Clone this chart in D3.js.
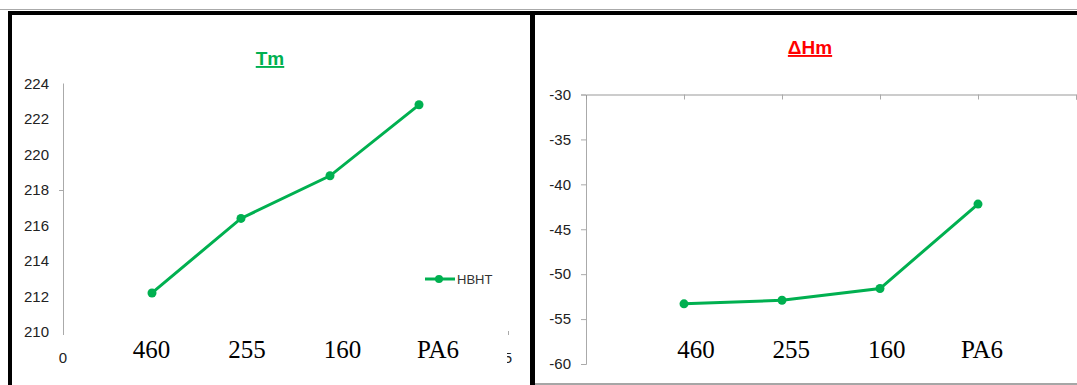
<!DOCTYPE html>
<html><head><meta charset="utf-8">
<script src="https://cdn.jsdelivr.net/npm/d3@7/dist/d3.min.js"></script>
<style>body{margin:0;background:#fff}svg{display:block}</style>
</head><body><svg id="c" width="1077" height="385"></svg>
<script>
const categories = ["460", "255", "160", "PA6"];
const tmValues = [212.2, 216.4, 218.8, 222.8];
const dhmValues = [-53.3, -52.9, -51.6, -42.2];
const tmTicks = [210, 212, 214, 216, 218, 220, 222, 224];
const dhmTicks = [-60, -55, -50, -45, -40, -35, -30];
const xTickLabels = [0, 5];
const seriesName = "HBHT";

const svg = d3.select("#c");
const green = "#00B050";
const tickFont = "'Liberation Sans Narrow','Liberation Sans',Arial,sans-serif";
const bigFont = "'Liberation Serif','Times New Roman',serif";

// frames
svg.append("line").attr("x1",0).attr("x2",1077).attr("y1",9.5).attr("y2",9.5).attr("stroke","#aaa");
svg.append("rect").attr("x",8).attr("y",11).attr("width",1069).attr("height",4).attr("fill","#000");
svg.append("rect").attr("x",8).attr("y",11).attr("width",4).attr("height",374).attr("fill","#000");
svg.append("rect").attr("x",530).attr("y",11).attr("width",5).attr("height",374).attr("fill","#000");
svg.append("line").attr("x1",535).attr("x2",1077).attr("y1",384).attr("y2",384).attr("stroke","#888").attr("stroke-width",1.5);

// ---------- Left: Tm ----------
const xL = d3.scaleLinear().domain([0,5]).range([63,508]);
const yL = d3.scaleLinear().domain([210,224]).range([332,83.5]);
const labL = d3.scaleLinear().domain([1,4]).range([151.5,438]);
const gL = svg.append("g");

gL.append("line").attr("x1",xL(0)+0.5).attr("x2",xL(0)+0.5).attr("y1",yL(224)).attr("y2",yL(210)+3).attr("stroke","#aaa");
gL.append("line").attr("x1",xL(0)-4).attr("x2",xL(0)).attr("y1",yL(218)+0.5).attr("y2",yL(218)+0.5).attr("stroke","#aaa");
gL.append("line").attr("x1",xL(5)+0.5).attr("x2",xL(5)+0.5).attr("y1",yL(210)-1).attr("y2",yL(210)+3).attr("stroke","#aaa");
gL.selectAll(".ty").data(tmTicks).join("text")
  .attr("x",49).attr("y",d=>yL(d)).attr("dy","0.35em").attr("text-anchor","end")
  .attr("font-family",tickFont).attr("font-size",15).attr("fill","#222").text(d=>d);
gL.selectAll(".tx").data(xTickLabels).join("text")
  .attr("x",d=>xL(d)).attr("y",363).attr("text-anchor","middle")
  .attr("font-family",tickFont).attr("font-size",15).attr("fill","#222").text(d=>d);
// category text box overlay
gL.append("rect").attr("x",110).attr("y",336).attr("width",397).attr("height",36).attr("fill","#fff");
gL.selectAll(".cat").data(categories).join("text")
  .attr("x",(d,i)=>labL(i+1)).attr("y",358).attr("text-anchor","middle")
  .attr("font-family",bigFont).attr("font-size",25).attr("fill","#000").text(d=>d);

const lineL = d3.line().x((d,i)=>xL(i+1)).y(d=>yL(d));
gL.append("path").datum(tmValues).attr("d",lineL).attr("fill","none").attr("stroke",green).attr("stroke-width",3);
gL.selectAll(".pt").data(tmValues).join("circle")
  .attr("cx",(d,i)=>xL(i+1)).attr("cy",d=>yL(d)).attr("r",4.5).attr("fill",green);

gL.append("text").attr("x",270).attr("y",65).attr("text-anchor","middle")
  .attr("font-family","'Liberation Sans',Arial,sans-serif").attr("font-weight","bold").attr("font-size",19)
  .attr("fill",green).attr("text-decoration","underline").text("Tm");

// legend
gL.append("line").attr("x1",425).attr("x2",455).attr("y1",279).attr("y2",279).attr("stroke",green).attr("stroke-width",3);
gL.append("circle").attr("cx",439).attr("cy",279).attr("r",4).attr("fill",green);
gL.append("text").attr("x",457).attr("y",279).attr("dy","0.35em").attr("font-family",tickFont)
  .attr("font-size",13).attr("fill","#333").text(seriesName);

// ---------- Right: ΔHm ----------
const xR = d3.scaleLinear().domain([0,5]).range([586,1076]);
const yR = d3.scaleLinear().domain([-60,-30]).range([364,94.5]);
const labR = d3.scaleLinear().domain([1,4]).range([696,982]);
const gR = svg.append("g");

gR.append("g").attr("transform",`translate(${xR(0)},0)`)
  .call(d3.axisLeft(yR).tickValues(dhmTicks).tickSize(5).tickPadding(10).tickFormat(d=>String(d)))
  .call(g=>{g.select(".domain").attr("stroke","#aaa");
    g.selectAll(".tick line").attr("stroke","#aaa");
    g.selectAll("text").attr("font-family",tickFont).attr("font-size",15).attr("fill","#222");});
gR.append("g").attr("transform",`translate(0,${yR(-30)})`)
  .call(d3.axisBottom(xR).tickValues([1,2,3,4,5]).tickSize(5).tickFormat(""))
  .call(g=>{g.select(".domain").attr("stroke","#999");
    g.selectAll(".tick line").attr("stroke","#aaa");});

gR.selectAll(".cat").data(categories).join("text")
  .attr("x",(d,i)=>labR(i+1)).attr("y",358).attr("text-anchor","middle")
  .attr("font-family",bigFont).attr("font-size",25).attr("fill","#000").text(d=>d);

const lineR = d3.line().x((d,i)=>xR(i+1)).y(d=>yR(d));
gR.append("path").datum(dhmValues).attr("d",lineR).attr("fill","none").attr("stroke",green).attr("stroke-width",3);
gR.selectAll(".pt").data(dhmValues).join("circle")
  .attr("cx",(d,i)=>xR(i+1)).attr("cy",d=>yR(d)).attr("r",4.5).attr("fill",green);

gR.append("text").attr("x",810).attr("y",54).attr("text-anchor","middle")
  .attr("font-family","'Liberation Sans',Arial,sans-serif").attr("font-weight","bold").attr("font-size",19)
  .attr("fill","#ff0000").attr("text-decoration","underline").text("ΔHm");
</script></body></html>
